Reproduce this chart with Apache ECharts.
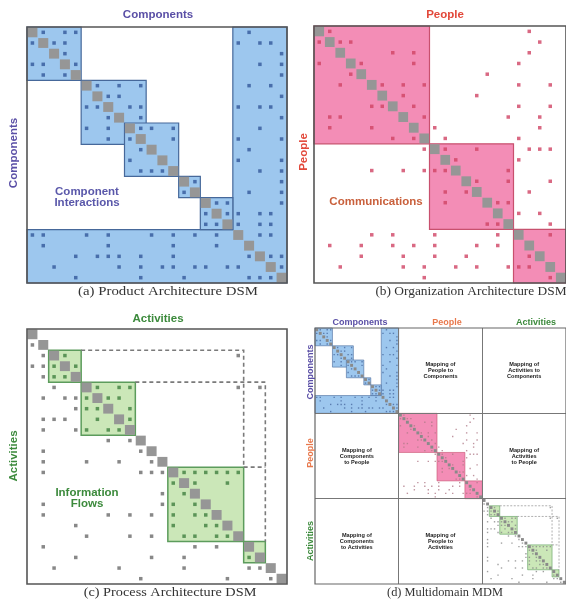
<!DOCTYPE html>
<html><head><meta charset="utf-8">
<script src="https://cdn.jsdelivr.net/npm/echarts@6/dist/echarts.min.js"></script>
<style>html,body{margin:0;padding:0;background:#fff}#c{width:566px;height:605px}</style>
</head><body><div id="c"></div>
<script>
const N = 24;
// (a) Product Architecture DSM: diagonal blocks [start,end) and bus band
const blocksA = [[0,5],[5,11],[9,14],[14,16],[16,19]];
const busA = [19,24];
// marks per row: column indices
const marksA = [
[1,3,4,20],[0,2,3,19,21,22],[3,23],[0,1,4,21,23],[1,3,23],
[6,8,10,20,22],[7,8,23],[5,6,9,10,19,21,22],[7,10,23],[5,7,10,11,13,21],
[7,9,13,19,23],[10,20],[9,19,23],[10,11,12,21,23],[15,23],
[14,20,23],[17,18,23],[16,18,19,21,22],[16,17,19,21,22],[0,1,5,7,11,13,15,17,21,22],
[1,7,13,17],[4,6,7,8,10,13,20,22,23],[2,8,10,12,13,15,16,18,19,23],[4,10,14,20,21,22]
];
// (b) Organization Architecture DSM
const blocksB = [[0,11],[11,19],[19,24]];
const marksB = [
[1,20],[0,2,3,21],[7,9,20],[0,4,9,19],[3,16],
[2,6,8,10,19,22],[8,15],[5,6,9,19,22],[1,2,10,18,21],[1,5,11,21],
[7,9,12,19],[10,12,15,20,21,22],[13,19],[5,8,10,11,12,18],[15,18,22],
[12,14,20],[12,17,18],[19,21],[16,17,22],[5,7,11,17,22],
[1,4,7,9,11,15,17],[4,8,11,14,20],[2,8,10,13,15,18,19,20],[10,22]
];
// (c) Process Architecture DSM
const blocksC = [[2,5],[5,10],[13,20],[20,22]];
const dashC = [[[5,2],[20,2],[20,13]], [[10,5],[22,5],[22,20]], [[20,13],[22,13]]];
const marksC = [
[],[0],[1,3,19],[0,1,2,4],[1,2,3],
[2,6,8,9,19,21],[1,3,4,5,7,8],[4,5,6,9],[1,2,3,6,9],[1,4,5,7,8],
[7,9],[1,10],[1,5,8,11],[1,10,11,12,14,15,16,17,18,19],[13,15,18],
[12,14],[1,12,13,15],[1,7,9,11,13,15,16],[4,13,16,17],[5,9,11,14,15,17,18],
[1,15,17],[4,11,14,20],[2,8,14,20,21],[10,18,22]
];
// (d) Multidomain MDM
const domains = ['Components','People','Activities'];
const mdmText = [
[1,0,'Mapping of\nPeople to\nComponents'],
[2,0,'Mapping of\nActivities to\nComponents'],
[0,1,'Mapping of\nComponents\nto People'],
[2,1,'Mapping of\nActivities\nto People'],
[0,2,'Mapping of\nComponents\nto Activities'],
[1,2,'Mapping of\nPeople to\nActivities']
];

const SANS = '"Liberation Sans", Arial, sans-serif';
const SERIF = '"Liberation Serif", "Times New Roman", serif';
const C_PURPLE = '#5a4fa6', C_RED = '#e2483a', C_GREEN = '#3c8a3c';

function cells(rows, off){
  const out = [];
  rows.forEach((cols, r) => cols.forEach(c => out.push([c + off + 0.5, r + off + 0.5])));
  return out;
}
function blockSeries(gi, blocks, off, fill, stroke, lw){
  return {type:'custom', xAxisIndex:gi, yAxisIndex:gi, silent:true,
    data: blocks.map(b => [b[0]+off, b[1]+off]),
    renderItem: (p, api) => {
      const a = api.coord([api.value(0), api.value(0)]);
      const b = api.coord([api.value(1), api.value(1)]);
      return {type:'rect', shape:{x:a[0], y:a[1], width:b[0]-a[0], height:b[1]-a[1]},
        style:{fill:fill, stroke:stroke, lineWidth:lw}};
    }};
}
function busSeries(gi, bus, off, n, fill, stroke, lw){
  return {type:'custom', xAxisIndex:gi, yAxisIndex:gi, silent:true,
    data: [[bus[0]+off, bus[1]+off]],
    renderItem: (p, api) => {
      const s = api.value(0), e = api.value(1);
      const pts = [[s,off],[e,off],[e,e],[off,e],[off,s],[s,s]].map(q => api.coord(q));
      return {type:'polygon', shape:{points:pts}, style:{fill:fill, stroke:stroke, lineWidth:lw}};
    }};
}
function diagSeries(gi, n, color, inset){
  return {type:'custom', xAxisIndex:gi, yAxisIndex:gi, silent:true,
    data: Array.from({length:n}, (_, i) => [i, i+1]),
    renderItem: (p, api) => {
      const a = api.coord([api.value(0), api.value(0)]);
      const b = api.coord([api.value(1), api.value(1)]);
      return {type:'rect', shape:{x:a[0]+inset, y:a[1]+inset, width:b[0]-a[0]-2*inset, height:b[1]-a[1]-2*inset},
        style:{fill:color}};
    }};
}
function frameSeries(gi, n, color, lw){
  return {type:'custom', xAxisIndex:gi, yAxisIndex:gi, silent:true, z:10,
    data: [[0, n]],
    renderItem: (p, api) => {
      const a = api.coord([api.value(0), api.value(0)]);
      const b = api.coord([api.value(1), api.value(1)]);
      return {type:'rect', shape:{x:a[0], y:a[1], width:b[0]-a[0], height:b[1]-a[1]},
        style:{fill:null, stroke:color, lineWidth:lw}};
    }};
}
function markSeries(gi, rows, off, size, color){
  return {type:'scatter', xAxisIndex:gi, yAxisIndex:gi, silent:true, data: cells(rows, off),
    symbol:'rect', symbolSize:size, itemStyle:{color:color}};
}
function dashSeries(gi, paths, off, width, dash){
  return {type:'lines', coordinateSystem:'cartesian2d', xAxisIndex:gi, yAxisIndex:gi, polyline:true, silent:true,
    data: paths.map(d => ({coords: d.map(q => [q[0]+off, q[1]+off])})),
    lineStyle:{color:'#7a7a7a', width:width, type:dash, opacity:1}};
}
function inBlocks(pt, blocks, off){
  return blocks.some(b => pt[0] > b[0]+off && pt[0] < b[1]+off && pt[1] > b[0]+off && pt[1] < b[1]+off);
}

const grids = [
  {left:27, top:27, width:260, height:256},
  {left:314, top:26, width:264, height:257},
  {left:27, top:329, width:260, height:255},
  {left:315, top:328, width:264, height:256}
];
const sizes = [N, N, N, N*domains.length];
const xAxes = sizes.map((n, i) => ({gridIndex:i, type:'value', min:0, max:n, show:false}));
const yAxes = sizes.map((n, i) => ({gridIndex:i, type:'value', min:0, max:n, inverse:true, show:false}));

const BLUE = '#9dc7ee', BLUE_S = '#46689a';
const PINK = '#f38db6', PINK_S = '#c8506e';
const GREEN = '#cbe7b8', GREEN_S = '#5c9c5c';
const DIAG = '#969696';

const series = [];
// (a)
series.push(busSeries(0, busA, 0, N, BLUE, BLUE_S, 1.2));
series.push(blockSeries(0, blocksA, 0, BLUE, BLUE_S, 1.2));
series.push(diagSeries(0, N, DIAG, 0.4));
series.push(markSeries(0, marksA, 0, 3.5, '#33589a'));
series.push(frameSeries(0, N, '#555', 1.6));
// (b)
series.push(blockSeries(1, blocksB, 0, PINK, PINK_S, 1.2));
series.push(diagSeries(1, N, DIAG, 0.4));
series.push(markSeries(1, marksB, 0, 3.5, '#d04464'));
series.push(frameSeries(1, N, '#555', 1.6));
// (c)
series.push(blockSeries(2, blocksC, 0, GREEN, GREEN_S, 1.5));
series.push(dashSeries(2, dashC, 0, 1.6, [4,3]));
series.push(diagSeries(2, N, DIAG, 0.4));
const mc = markSeries(2, marksC, 0, 3.5, '#707070');
mc.itemStyle = {color: p => inBlocks(p.data, blocksC, 0) ? '#3f7f3f' : '#6a6a6a'};
series.push(mc);
series.push(frameSeries(2, N, '#555', 1.6));
// (d)
series.push(busSeries(3, busA, 0, N, BLUE, BLUE_S, 0.6));
series.push(blockSeries(3, blocksA, 0, BLUE, BLUE_S, 0.6));
series.push(blockSeries(3, blocksB, N, PINK, PINK_S, 0.6));
series.push(blockSeries(3, blocksC, 2*N, GREEN, GREEN_S, 0.6));
series.push(dashSeries(3, dashC, 2*N, 0.6, [2,1.5]));
series.push(diagSeries(3, N*domains.length, '#8a8a8a', 0.3));
series.push(markSeries(3, marksA, 0, 1.4, '#4a6aa0'));
series.push(markSeries(3, marksB, N, 1.4, '#b07a88'));
series.push(markSeries(3, marksC, 2*N, 1.4, '#888'));
const divs = [];
for (let k = 1; k < domains.length; k++) {
  divs.push({coords:[[k*N, 0],[k*N, N*domains.length]]});
  divs.push({coords:[[0, k*N],[N*domains.length, k*N]]});
}
series.push({type:'lines', coordinateSystem:'cartesian2d', xAxisIndex:3, yAxisIndex:3, silent:true, z:5,
  data: divs, lineStyle:{color:'#777', width:1, opacity:1}});
series.push({type:'custom', xAxisIndex:3, yAxisIndex:3, silent:true, z:6,
  data: mdmText.map(t => [t[0]*N + N/2, t[1]*N + N/2]),
  renderItem: (p, api) => {
    const c = api.coord([api.value(0), api.value(1)]);
    return {type:'text', x:c[0], y:c[1], style:{text: mdmText[p.dataIndex][2],
      font:'bold 5.6px ' + SANS, fill:'#222', align:'center', verticalAlign:'middle', lineHeight:6}};
  }});
series.push(frameSeries(3, N*domains.length, '#666', 1.2));

function txt(x, y, text, font, fill, opts){
  return Object.assign({type:'text', x:x, y:y, silent:true, z:20,
    style:{text:text, font:font, fill:fill, textAlign:'center', textVerticalAlign:'middle'}}, opts || {});
}
const B115 = 'bold 11.5px ' + SANS, B9 = 'bold 9px ' + SANS, CAP = '13px ' + SERIF;
const ROT = {rotation: Math.PI/2};
const graphic = [
  txt(158, 15, 'Components', B115, C_PURPLE),
  txt(14, 153, 'Components', B115, C_PURPLE, ROT),
  txt(87, 197, 'Component\nInteractions', B115, '#5a58aa'),
  txt(445, 15, 'People', B115, C_RED),
  txt(304, 152, 'People', B115, C_RED, ROT),
  txt(376, 202, 'Communications', B115, '#c9603c'),
  txt(158, 319, 'Activities', B115, C_GREEN),
  txt(14, 456, 'Activities', B115, C_GREEN, ROT),
  txt(87, 498, 'Information\nFlows', B115, C_GREEN),
  txt(360, 323, 'Components', B9, C_PURPLE),
  txt(447, 323, 'People', B9, '#e8784c'),
  txt(536, 323, 'Activities', B9, C_GREEN),
  txt(311, 372, 'Components', B9, C_PURPLE, ROT),
  txt(311, 453, 'People', B9, '#e8784c', ROT),
  txt(311, 541, 'Activities', B9, C_GREEN, ROT),
  txt(168, 292, '(a) Product Architecture DSM', CAP, '#333', {scaleX:1.14}),
  txt(471, 292, '(b) Organization Architecture DSM', CAP, '#333', {scaleX:1.03}),
  txt(170, 593, '(c) Process Architecture DSM', CAP, '#333', {scaleX:1.1}),
  txt(445, 593, '(d) Multidomain MDM', CAP, '#333', {scaleX:0.95})
];
graphic[2].style.lineHeight = 11;
graphic[8].style.lineHeight = 11;

const chart = echarts.init(document.getElementById('c'), null, {renderer:'canvas'});
chart.setOption({
  animation:false,
  backgroundColor:'#fff',
  grid: grids.map(g => Object.assign({show:false, containLabel:false}, g)),
  xAxis: xAxes, yAxis: yAxes,
  series: series,
  graphic: graphic
});
</script></body></html>
